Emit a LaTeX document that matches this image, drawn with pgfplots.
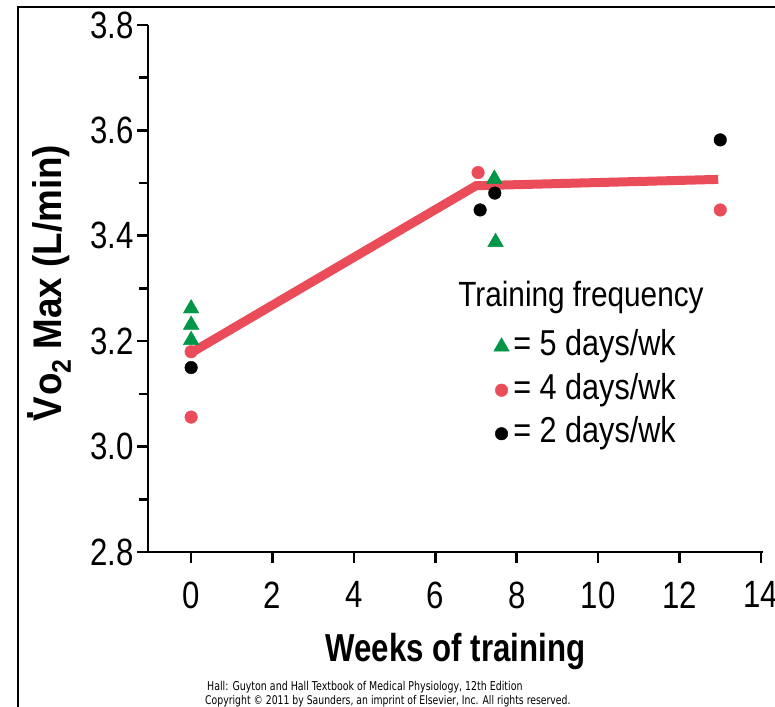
\documentclass[border=0pt]{standalone}
\usepackage{pgfplots}
\pgfplotsset{compat=1.18}
\usepackage{fontspec}
\setmainfont{Liberation Sans}
\newfontfamily\tickfam[FakeStretch=0.82]{Liberation Sans}
\newfontfamily\legfam[FakeStretch=0.85]{Liberation Sans}
\newfontfamily\labfam[FakeStretch=0.8]{Liberation Sans}
\newfontfamily\ylabfam[FakeStretch=0.92]{Liberation Sans}
\newfontfamily\footfam[FakeStretch=0.775]{DejaVu Sans}
\definecolor{pgreen}{RGB}{0,150,72}
\definecolor{pred}{RGB}{234,76,90}
\pgfplotsset{
  mylegimg/.style={legend image code/.code={\draw[mark repeat=1,mark phase=1,##1] plot coordinates {(0bp,0bp)};}}
}
\begin{document}
\begin{tikzpicture}[x=1bp,y=1bp]
\useasboundingbox (0,0) rectangle (775,707);
\fill[white] (0,0) rectangle (775,707);
\draw[line width=2.5bp] (18,0) -- (18,700) -- (775,700);
\begin{axis}[
  at={(148bp,155bp)}, anchor=south west,
  x=40.7bp, y=527bp,
  xmin=-1.06, xmax=14.05, ymin=2.8, ymax=3.8,
  axis x line*=bottom, axis y line*=left,
  axis line style={line width=2.6bp,-},
  xtick={0,2,4,6,8,10,12,14},
  ytick={2.8,3,3.2,3.4,3.6,3.8},
  minor ytick={2.9,3.1,3.3,3.5,3.7},
  tick align=outside,
  major tick length=11bp, minor tick length=9bp,
  every tick/.style={black, line width=2.6bp},
  /pgf/number format/assume math mode=true,
  yticklabel style={/pgf/number format/.cd, fixed, fixed zerofill, precision=1},
  ticklabel style={font=\tickfam\fontsize{38bp}{44bp}\selectfont},
  xticklabel style={yshift=-15bp},
  clip=false,
  xlabel={Weeks of training},
  xlabel style={at={(axis description cs:0.5,0)}, anchor=base, yshift=-110bp,
    font=\labfam\bfseries\fontsize{39bp}{46bp}\selectfont},
  ylabel={\rlap{\hspace{1bp}\raisebox{28bp}{.}}V\kern1bp o\raisebox{-9bp}{\fontsize{27bp}{27bp}\selectfont 2} Max (L/min)},
  ylabel style={at={(axis description cs:-0.14,0.51)}, anchor=base, rotate=0,
    font=\ylabfam\bfseries\fontsize{40bp}{48bp}\selectfont},
  legend style={at={(axis cs:7.43,3.225)}, anchor=north west, draw=none, fill=none,
    inner sep=0pt, row sep=6.5bp,
    font=\legfam\fontsize{36bp}{42bp}\selectfont,
    nodes={text height=26bp, text depth=8bp, inner ysep=1.5bp, inner xsep=4bp}},
  legend cell align=left,
]
\addplot[pred, line width=9bp, forget plot] coordinates {(0,3.178) (7.0,3.495) (12.95,3.507)};
\addplot[only marks, mark=triangle*, mark size=9bp, mark options={fill=pgreen, draw=pgreen, line width=0.4bp}, mylegimg]
  coordinates {(0,3.262) (0,3.231) (0,3.202) (7.45,3.508) (7.48,3.388)};
\addlegendentry{= 5 days/wk}
\addplot[only marks, mark=*, mark size=6.3bp, mark options={fill=pred, draw=pred, line width=0.4bp}, mylegimg]
  coordinates {(0,3.180) (0,3.056) (7.05,3.520) (13.0,3.449)};
\addlegendentry{= 4 days/wk}
\addplot[only marks, mark=*, mark size=6.3bp, mark options={fill=black, draw=black, line width=0.4bp}, mylegimg]
  coordinates {(0,3.150) (7.1,3.449) (7.46,3.481) (13.0,3.582)};
\addlegendentry{= 2 days/wk}
\node[anchor=base west, font=\legfam\fontsize{35bp}{42bp}\selectfont, inner sep=0pt] at (axis cs:6.56,3.265) {Training frequency};
\end{axis}
\node[anchor=base west, font=\footfam\fontsize{12.2bp}{14bp}\selectfont, inner sep=0pt] at (207,16) {Hall: Guyton and Hall Textbook of Medical Physiology, 12th Edition};
\node[anchor=base west, font=\footfam\fontsize{12bp}{14bp}\selectfont, inner sep=0pt] at (205,2) {Copyright \textcopyright{} 2011 by Saunders, an imprint of Elsevier, Inc. All rights reserved.};
\end{tikzpicture}
\end{document}
